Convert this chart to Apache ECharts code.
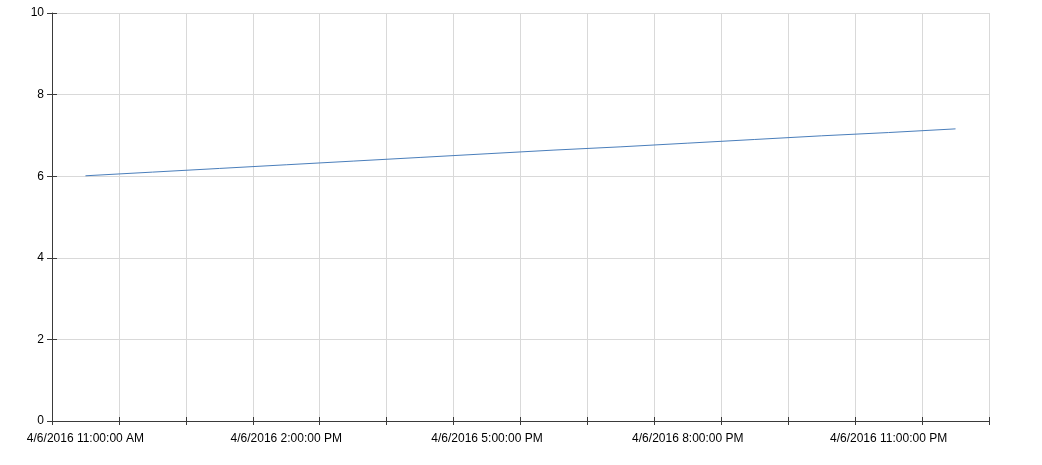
<!DOCTYPE html>
<html>
<head>
<meta charset="utf-8">
<script src="https://cdn.jsdelivr.net/npm/echarts@6/dist/echarts.min.js"></script>
<style>
  html, body { margin: 0; padding: 0; background: #fff; }
  #chart { width: 1042px; height: 465px; }
</style>
</head>
<body>
<div id="chart"></div>
<script>
// hourly categories, 11 AM through midnight
var categories = [
  "4/6/2016 11:00:00 AM", "4/6/2016 12:00:00 PM", "4/6/2016 1:00:00 PM",
  "4/6/2016 2:00:00 PM", "4/6/2016 3:00:00 PM", "4/6/2016 4:00:00 PM",
  "4/6/2016 5:00:00 PM", "4/6/2016 6:00:00 PM", "4/6/2016 7:00:00 PM",
  "4/6/2016 8:00:00 PM", "4/6/2016 9:00:00 PM", "4/6/2016 10:00:00 PM",
  "4/6/2016 11:00:00 PM", "4/7/2016 12:00:00 AM"
];
var values = [6.01, 6.10, 6.19, 6.28, 6.37, 6.46, 6.55, 6.64, 6.72, 6.81, 6.90, 6.99, 7.07, 7.16];
var yMin = 0, yMax = 10, yStep = 2;

var FONT = "Liberation Sans, Arial, sans-serif";
var AXIS_COLOR = "#3a3a3a";
var GRID_COLOR = "#d9d9d9";

var chart = echarts.init(document.getElementById("chart"));

var baseX = {
  type: "category",
  data: categories,
  boundaryGap: true,
  position: "bottom"
};
var baseY = {
  type: "value",
  min: yMin,
  max: yMax,
  interval: yStep,
  position: "left"
};

chart.setOption({
  animation: false,
  backgroundColor: "#fff",
  grid: { left: 52, right: 53, top: 13, bottom: 44, containLabel: false },
  xAxis: [
    Object.assign({}, baseX, {
      axisLine: { lineStyle: { color: AXIS_COLOR, width: 1 } },
      axisTick: { show: true, interval: 0, length: 4, lineStyle: { color: AXIS_COLOR } },
      axisLabel: {
        interval: 2, margin: 12, color: "#000",
        fontFamily: FONT, fontSize: 12
      },
      splitLine: { show: true, interval: 0, lineStyle: { color: GRID_COLOR, width: 1 } }
    }),
    Object.assign({}, baseX, {
      axisLine: { show: false },
      axisTick: { show: true, inside: true, interval: 0, length: 4, lineStyle: { color: AXIS_COLOR } },
      axisLabel: { show: false },
      splitLine: { show: false }
    })
  ],
  yAxis: [
    Object.assign({}, baseY, {
      axisLine: { show: true, lineStyle: { color: AXIS_COLOR, width: 1 } },
      axisTick: { show: true, length: 5, lineStyle: { color: AXIS_COLOR } },
      axisLabel: { margin: 8, color: "#000", fontFamily: FONT, fontSize: 12 },
      splitLine: { show: true, lineStyle: { color: GRID_COLOR, width: 1 } }
    }),
    Object.assign({}, baseY, {
      axisLine: { show: false },
      axisTick: { show: true, inside: true, length: 5, lineStyle: { color: AXIS_COLOR } },
      axisLabel: { show: false },
      splitLine: { show: false }
    })
  ],
  series: [
    {
      type: "line",
      data: values,
      xAxisIndex: 0,
      yAxisIndex: 0,
      showSymbol: false,
      symbol: "none",
      lineStyle: { color: "#4a7ebb", width: 1 }
    }
  ]
});
</script>
</body>
</html>
